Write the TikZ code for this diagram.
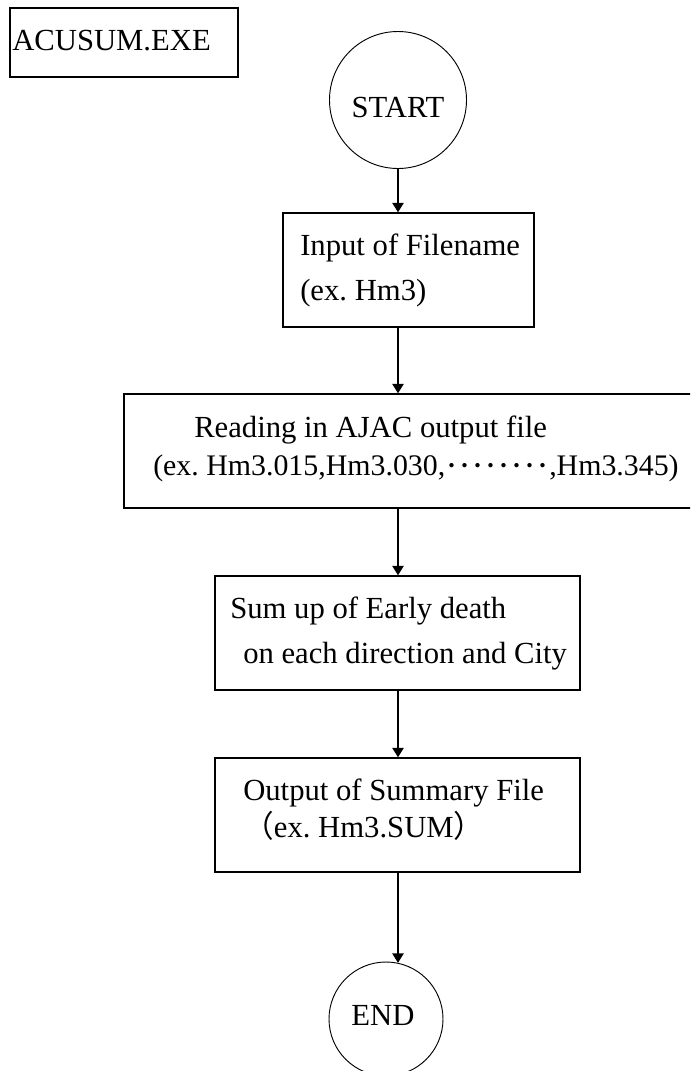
\documentclass[tikz,border=0pt]{standalone}
\usepackage{fontspec}
\setmainfont{Liberation Serif}
\newfontfamily\cjkfont{Noto Sans CJK JP}
\usetikzlibrary{arrows.meta}
\frenchspacing

\begin{document}
\begin{tikzpicture}[x=0.75pt,y=-0.75pt,
  box/.style={draw, line width=1.1pt, rectangle, inner sep=0pt},
  term/.style={draw, line width=0.7pt, circle, inner sep=0pt},
  lbl/.style={anchor=base west, inner sep=0pt, font=\fontsize{23pt}{27pt}\selectfont},
  clbl/.style={anchor=base, inner sep=0pt, font=\fontsize{23pt}{27pt}\selectfont},
  flow/.style={line width=0.9pt, -{Triangle[length=7pt,width=8.5pt]}}]

  % page frame (also trims the boxes running off the edge)
  \clip (0,0) rectangle (690,1071);
  \fill[white] (0,0) rectangle (690,1071);

  % program name
  \node[box, minimum width=171pt, minimum height=51.75pt] (title) at (124,42.5) {};
  \node[lbl] (titletxt) at (12,50) {ACUSUM.EXE};

  % terminals and process boxes
  \node[term, minimum size=102.75pt] (start) at (398,100) {};
  \node[clbl] (starttxt) at (398,117) {START};

  \node[box, minimum width=188.25pt, minimum height=85.5pt] (input) at (408.5,270) {};
  \node[lbl] (input1) at (300,255) {Input of Filename};
  \node[lbl] (input2) at (300,300) {(ex. Hm3)};

  \node[box, minimum width=432pt, minimum height=85.5pt] (reading) at (412,451) {};
  \node[lbl] (reading1) at (194,437) {Reading in AJAC output file};
  \node[lbl, font=\fontsize{22.4pt}{27pt}\selectfont] (reading2) at (153,475)
    {(ex. Hm3.015,Hm3.030,{\cjkfont\fontsize{19.5pt}{24pt}\selectfont ････････},Hm3.345)};

  \node[box, minimum width=273.75pt, minimum height=85.5pt] (sum) at (397.5,633) {};
  \node[lbl] (sum1) at (230,618) {Sum up of Early death};
  \node[lbl] (sum2) at (243,663) {on each direction and City};

  \node[box, minimum width=273.75pt, minimum height=85.5pt] (output) at (397.5,815) {};
  \node[lbl] (output1) at (243,800) {Output of Summary File};
  \node[lbl] (output2) at (243,837) {{\cjkfont （}ex. Hm3.SUM{\cjkfont ）}};

  \node[term, minimum size=85.5pt] (end) at (386,1019) {};
  \node[clbl] (endtxt) at (383,1025) {END};

  % flow axis
  \coordinate (axis) at (398,0);

  \draw[flow] (start.south) -- (axis |- input.north);
  \draw[flow] (axis |- input.south) -- (axis |- reading.north);
  \draw[flow] (axis |- reading.south) -- (axis |- sum.north);
  \draw[flow] (axis |- sum.south) -- (axis |- output.north);
  \draw[flow] (axis |- output.south) -- (axis |- end.78);
\end{tikzpicture}
\end{document}
